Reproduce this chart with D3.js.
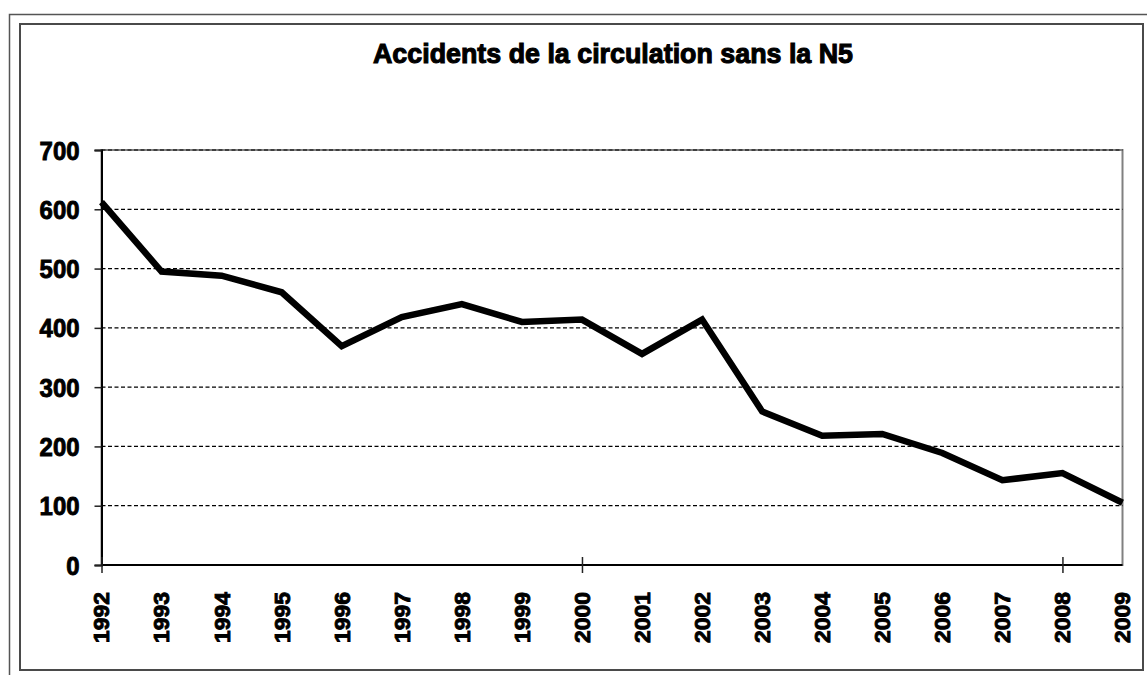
<!DOCTYPE html>
<html>
<head>
<meta charset="utf-8">
<script src="https://cdn.jsdelivr.net/npm/d3@7"></script>
<style>
  body { margin: 0; background: #fff; }
  svg text { font-family: "Liberation Sans", Arial, sans-serif; font-weight: bold; fill: #000; stroke: #000; stroke-width: 0.9px; }
</style>
</head>
<body>
<div id="chart"></div>
<script>
// data
var years = ["1992","1993","1994","1995","1996","1997","1998","1999","2000",
             "2001","2002","2003","2004","2005","2006","2007","2008","2009"];
var accidents = [612, 495, 488, 460, 369, 418, 440, 410, 414,
                 356, 414, 259, 218, 221, 189, 143, 155, 105];
var yTicks = [0, 100, 200, 300, 400, 500, 600, 700];
var xTickYears = ["1992", "2000", "2008"];
var title = "Accidents de la circulation sans la N5";

var width = 1147, height = 675;
var plot = { left: 101.5, right: 1122.5, top: 150, bottom: 565 };

var svg = d3.select("#chart").append("svg")
    .attr("width", width)
    .attr("height", height);

// frames
svg.append("rect")
    .attr("x", 9.5).attr("y", 14.5)
    .attr("width", 1150).attr("height", 680)
    .attr("fill", "none").attr("stroke", "#555").attr("stroke-width", 1.5);
svg.append("rect")
    .attr("x", 20).attr("y", 24)
    .attr("width", 1123).attr("height", 646)
    .attr("fill", "#fff").attr("stroke", "#4a4a4a").attr("stroke-width", 2);

var x = d3.scalePoint().domain(years).range([plot.left, plot.right]);
var y = d3.scaleLinear().domain([0, 700]).range([plot.bottom, plot.top]);

// plot area border
svg.append("rect")
    .attr("x", plot.left).attr("y", plot.top)
    .attr("width", plot.right - plot.left).attr("height", plot.bottom - plot.top)
    .attr("fill", "none").attr("stroke", "#808080").attr("stroke-width", 2);

// gridlines
svg.append("g")
    .selectAll("line")
    .data(yTicks.filter(function(d) { return d > 0; }))
    .enter()
    .append("line")
    .attr("x1", plot.left).attr("x2", plot.right)
    .attr("y1", function(d) { return y(d); })
    .attr("y2", function(d) { return y(d); })
    .attr("stroke", "#000").attr("stroke-width", 1.2)
    .attr("stroke-dasharray", "4,2.5");

// y axis
var yAxis = svg.append("g")
    .attr("transform", "translate(" + plot.left + ",0)")
    .call(d3.axisLeft(y).tickValues(yTicks).tickSize(7).tickPadding(15).tickFormat(d3.format("d")));
yAxis.select(".domain").attr("stroke", "#000").attr("stroke-width", 2);
yAxis.selectAll(".tick line").attr("stroke", "#222").attr("stroke-width", 1.5);
yAxis.selectAll("text")
    .style("font-size", "25px")
    .attr("dy", "0.36em")
    .attr("textLength", function(d) { return String(d).length * 13.3; })
    .attr("lengthAdjust", "spacingAndGlyphs");

// x axis line + crossing ticks
var xAxis = svg.append("g")
    .attr("transform", "translate(0," + plot.bottom + ")")
    .call(d3.axisBottom(x).tickValues(xTickYears).tickSize(8).tickFormat(""));
xAxis.select(".domain").attr("d", "M" + plot.left + ",0H" + plot.right)
    .attr("stroke", "#000").attr("stroke-width", 2);
xAxis.selectAll(".tick line").attr("y1", -8).attr("stroke", "#222").attr("stroke-width", 1.5);

// x labels, rotated
svg.append("g")
    .selectAll("text")
    .data(years)
    .enter()
    .append("text")
    .attr("transform", function(d) { return "translate(" + x(d) + ",592) rotate(-90)"; })
    .attr("text-anchor", "end")
    .attr("dy", "0.36em")
    .attr("textLength", 51)
    .attr("lengthAdjust", "spacingAndGlyphs")
    .style("font-size", "22px")
    .text(function(d) { return d; });

// line
var line = d3.line()
    .x(function(d, i) { return x(years[i]); })
    .y(function(d) { return y(d); });

svg.append("path")
    .datum(accidents)
    .attr("d", line)
    .attr("fill", "none")
    .attr("stroke", "#000")
    .attr("stroke-width", 6.5)
    .attr("stroke-linejoin", "miter");

// title
svg.append("text")
    .attr("x", 373).attr("y", 63)
    .attr("textLength", 480)
    .attr("lengthAdjust", "spacingAndGlyphs")
    .style("font-size", "28px")
    .style("stroke-width", 1.1)
    .text(title);
</script>
</body>
</html>
